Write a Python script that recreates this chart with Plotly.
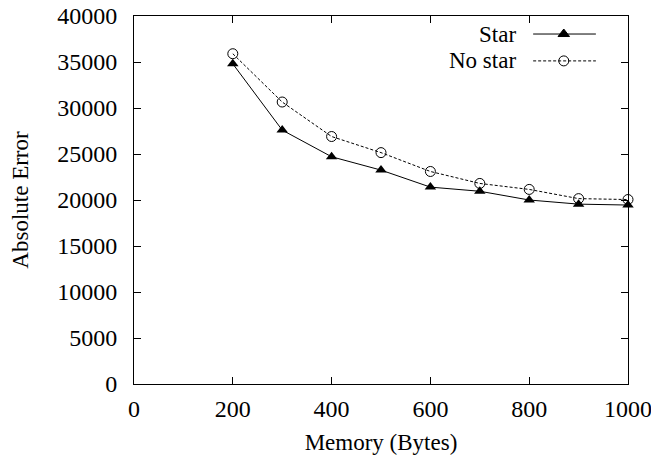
import plotly.graph_objects as go

memory = [200, 300, 400, 500, 600, 700, 800, 900, 1000]
star = [34800, 27600, 24700, 23250, 21400, 20950, 20000, 19550, 19450]
no_star = [35900, 30650, 26900, 25150, 23100, 21800, 21150, 20150, 20050]

x_ticks = [0, 200, 400, 600, 800, 1000]
y_ticks = [0, 5000, 10000, 15000, 20000, 25000, 30000, 35000, 40000]

FONT = "Liberation Serif"
FS = 24

fig = go.Figure()
fig.add_trace(go.Scatter(x=memory, y=star, mode="lines+markers", name="Star",
                         line=dict(color="black", width=1),
                         marker=dict(symbol="triangle-up", size=10, color="black"),
                         showlegend=False, cliponaxis=False))
fig.add_trace(go.Scatter(x=memory, y=no_star, mode="lines+markers", name="No star",
                         line=dict(color="black", width=1, dash="3px,2px"),
                         marker=dict(symbol="circle-open", size=10, color="black", line=dict(width=1)),
                         showlegend=False, cliponaxis=False))

# Legend drawn gnuplot-style (text right-aligned, sample on the right)
leg_items = [("Star", 0.951, "solid", "triangle-up"), ("No star", 0.878, "3px,2px", "circle-open")]
for name, yy, dash, sym in leg_items:
    fig.add_annotation(x=0.775, y=yy, xref="paper", yref="paper", text=name, showarrow=False,
                       xanchor="right", yanchor="middle", borderpad=0,
                       font=dict(family=FONT, size=FS - 1, color="black"))
    fig.add_trace(go.Scatter(x=[0.808, 0.935], y=[yy, yy], xaxis="x2", yaxis="y2", mode="lines",
                             line=dict(color="black", width=1, dash=dash), showlegend=False, hoverinfo="skip"))
    fig.add_trace(go.Scatter(x=[0.870], y=[yy], xaxis="x2", yaxis="y2", mode="markers",
                             marker=dict(symbol=sym, size=10, color="black", line=dict(width=1, color="black")),
                             showlegend=False, hoverinfo="skip"))

axis_common = dict(showgrid=False, zeroline=False, showline=True, linecolor="black", linewidth=1,
                   mirror="allticks", ticks="inside", ticklen=7, tickcolor="black", tickwidth=1,
                   automargin=False, ticklabeloverflow="allow",
                   tickfont=dict(family=FONT, size=FS, color="black"))
fig.update_layout(
    width=651, height=459,
    margin=dict(l=134, r=23, t=16, b=75),
    plot_bgcolor="white", paper_bgcolor="white",
    font=dict(family=FONT, size=FS, color="black"),
    xaxis=dict(range=[0, 1000], tickvals=x_ticks, ticktext=[str(v) for v in x_ticks],
               ticklabelstandoff=3,
               title=dict(text="Memory (Bytes)", font=dict(family=FONT, size=FS - 1), standoff=13),
               **axis_common),
    yaxis=dict(range=[0, 40000], tickvals=y_ticks, ticktext=[str(v) for v in y_ticks],
               ticklabelstandoff=11,
               title=dict(text="Absolute Error", font=dict(family=FONT, size=FS - 1), standoff=22),
               **axis_common),
    xaxis2=dict(range=[0, 1], overlaying="x", visible=False, fixedrange=True),
    yaxis2=dict(range=[0, 1], overlaying="y", visible=False, fixedrange=True),
)

fig.write_html("out.html")
